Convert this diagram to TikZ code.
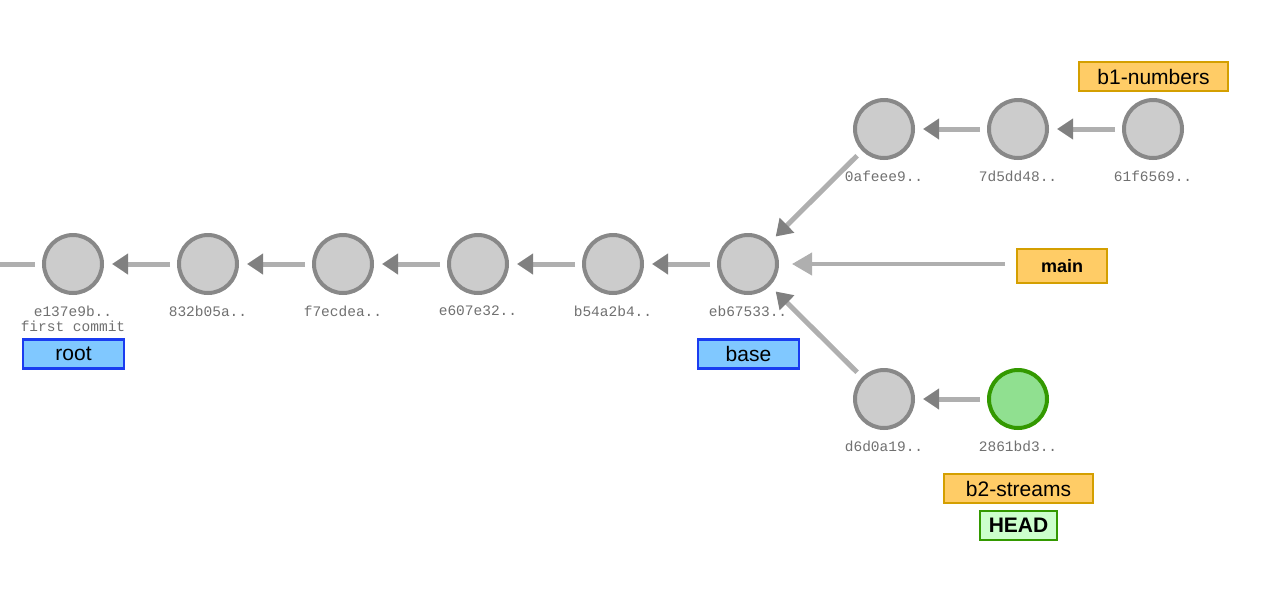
\documentclass[tikz,border=0pt]{standalone}
\usepackage{fontspec}
\setmainfont{Liberation Sans}
\setmonofont{Liberation Mono}
\usetikzlibrary{arrows.meta}

\definecolor{commitfill}{HTML}{CCCCCC}
\definecolor{commitline}{HTML}{888888}
\definecolor{headfill}{HTML}{90E090}
\definecolor{headline}{HTML}{339900}
\definecolor{edgeline}{HTML}{AFAFAF}
\definecolor{edgetip}{HTML}{808080}
\definecolor{hashcol}{HTML}{707070}
\definecolor{tagfill}{HTML}{80C8FF}
\definecolor{tagline}{HTML}{1A3CF0}
\definecolor{branchfill}{HTML}{FFCC66}
\definecolor{branchline}{HTML}{D49F00}
\definecolor{headtagfill}{HTML}{CCFFCC}

\tikzset{
    commit/.style={circle,draw=commitline,fill=commitfill,line width=4pt,minimum size=58pt,inner sep=0pt},
    current/.style={commit,draw=headline,fill=headfill},
    hash/.style={font=\ttfamily\fontsize{14.5}{16}\selectfont,text=hashcol,inner sep=0pt},
    reflabel/.style={line width=2.5pt,inner sep=0pt,font=\fontsize{21}{24}\selectfont},
    tag/.style={reflabel,draw=tagline,fill=tagfill,minimum width=101pt,minimum height=29pt},
    branch/.style={reflabel,draw=branchline,fill=branchfill,minimum width=149pt,minimum height=29pt},
    parent/.style={draw=edgeline,line width=5pt,shorten <=7pt,shorten >=8pt,
        -{Triangle[length=16pt,width=20pt,color=edgetip]}},
}

\begin{document}
\begin{tikzpicture}[x=1pt,y=-1pt]
    \useasboundingbox (0,0) rectangle (1280,600);

    % main line of commits
    \foreach \n/\x/\h in {c1/73/e137e9b..,c2/208/832b05a..,c3/343/f7ecdea..,
                          c4/478/e607e32..,c5/613/b54a2b4..,c6/748/eb67533..} {
        \node[commit] (\n) at (\x,264) {};
        \node[hash] (\n-hash) at (\x,311) {\h};
    }
    \node[hash] (c1-msg) at (73,326) {first commit};

    % b1-numbers
    \foreach \n/\x/\h in {t1/884/0afeee9..,t2/1018/7d5dd48..,t3/1153/61f6569..} {
        \node[commit] (\n) at (\x,129) {};
        \node[hash] (\n-hash) at (\x,176) {\h};
    }

    % b2-streams
    \node[commit] (b1) at (884,399) {};
    \node[hash] (b1-hash) at (884,446) {d6d0a19..};
    \node[current] (b2) at (1018,399) {};
    \node[hash] (b2-hash) at (1018,446) {2861bd3..};

    % refs
    \node[tag] (root) at (73.5,354) {root};
    \node[tag] (base) at (748.5,354) {base};
    \node[branch] (numbers) at (1153.5,76.5) {b1-numbers};
    \node[branch] (streams) at (1018.5,488.5) {b2-streams};
    \node[reflabel,draw=branchline,fill=branchfill,minimum width=90pt,minimum height=34pt,
          font=\bfseries\fontsize{18}{20}\selectfont] (main) at (1062,266) {main};
    \node[reflabel,draw=headline,fill=headtagfill,minimum width=77pt,minimum height=29pt,
          font=\bfseries\fontsize{21}{24}\selectfont] (head) at (1018.5,525.5) {HEAD};

    % parents
    \coordinate (off) at (0,264);
    \draw[draw=edgeline,line width=5pt,shorten >=7pt] (off) -- (c1);
    \foreach \a/\b in {c2/c1,c3/c2,c4/c3,c5/c4,c6/c5,t1/c6,t2/t1,t3/t2,b1/c6,b2/b1} {
        \draw[parent] (\a) -- (\b);
    }
    \draw[draw=edgeline,line width=4pt,shorten <=11pt,shorten >=13pt,
        -{Triangle[length=20pt,width=22pt,color=edgeline]}] (main.west |- c6.east) -- (c6.east);
\end{tikzpicture}
\end{document}
